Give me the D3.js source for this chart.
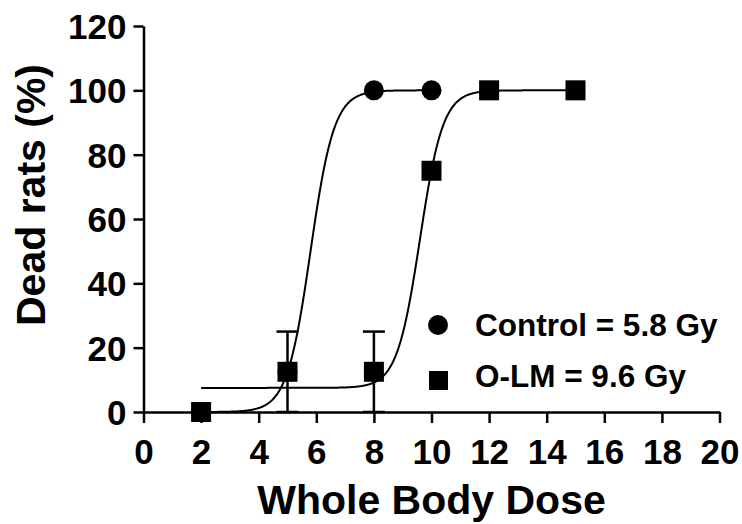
<!DOCTYPE html>
<html>
<head>
<meta charset="utf-8">
<script src="https://cdn.jsdelivr.net/npm/d3@7"></script>
<style>
  body { margin: 0; background: #fff; }
  text { font-family: "Liberation Sans", Arial, sans-serif; font-weight: bold; }
</style>
</head>
<body>
<div id="chart"></div>
<script>
var width = 742;
var height = 524;

// measured points
var controlDose = [2, 5, 8, 10];
var controlDead = [0, 12.5, 100, 100];
var olmDose = [2, 5, 8, 10, 12, 15];
var olmDead = [0, 12.5, 12.5, 75, 100, 100];
var olmErr = [0, 12.5, 12.5, 0, 0, 0];

// sigmoid fits: [bottom, top, LD50, slope, xFrom, xTo]
var controlFit = [0, 100, 5.8, 0.41, 2, 10];
var olmFit = [7.5, 100, 9.6, 0.40, 2, 15];

var xTicks = [0, 2, 4, 6, 8, 10, 12, 14, 16, 18, 20];
var yTicks = [0, 20, 40, 60, 80, 100, 120];
var legendLabels = ["Control = 5.8 Gy", "O-LM = 9.6 Gy"];

var margin = {left: 143.5, right: 22.5, top: 26, bottom: 112};

var svg = d3.select("#chart")
    .append("svg")
    .attr("width", width)
    .attr("height", height);

var x = d3.scaleLinear().domain([0, 20]).range([margin.left, width - margin.right]);
var y = d3.scaleLinear().domain([0, 120]).range([height - margin.bottom, margin.top]);

// axes
var xAxis = svg.append("g")
    .attr("transform", "translate(0," + y(0) + ")")
    .call(d3.axisBottom(x).tickValues(xTicks).tickSize(11).tickPadding(8).tickSizeOuter(0));
var yAxis = svg.append("g")
    .attr("transform", "translate(" + x(0) + ",0)")
    .call(d3.axisLeft(y).tickValues(yTicks).tickSize(10).tickPadding(7).tickSizeOuter(0));

[xAxis, yAxis].forEach(function (g) {
    g.select(".domain").attr("stroke", "#000").attr("stroke-width", 2.5);
    g.selectAll(".tick line").attr("stroke", "#000").attr("stroke-width", 2.5);
    g.selectAll(".tick text")
        .attr("fill", "#000")
        .style("font-size", "35px");
});
xAxis.selectAll(".tick text").attr("dy", "0.95em");
yAxis.selectAll(".tick text").attr("dy", "0.36em");

// axis titles
svg.append("text")
    .attr("x", x(10))
    .attr("y", 514)
    .attr("text-anchor", "middle")
    .style("font-size", "41px")
    .text("Whole Body Dose");

svg.append("text")
    .attr("transform", "translate(45,195) rotate(-90)")
    .attr("text-anchor", "middle")
    .style("font-size", "41px")
    .text("Dead rats (%)");

// fitted curves
function fitLine(p) {
    var xs = d3.range(p[4], p[5] + 0.001, 0.02);
    return xs.map(function (d) {
        return [d, p[0] + (p[1] - p[0]) / (1 + Math.exp((p[2] - d) / p[3]))];
    });
}
var line = d3.line()
    .x(function (d) { return x(d[0]); })
    .y(function (d) { return y(d[1]); });

[controlFit, olmFit].forEach(function (p) {
    svg.append("path")
        .attr("d", line(fitLine(p)))
        .attr("fill", "none")
        .attr("stroke", "#000")
        .attr("stroke-width", 2);
});

// error bars
var olm = olmDose.map(function (d, i) { return {x: d, y: olmDead[i], e: olmErr[i]}; });
var errs = svg.append("g").selectAll("g")
    .data(olm.filter(function (d) { return d.e > 0; }))
    .enter().append("g")
    .attr("stroke", "#000")
    .attr("stroke-width", 2.5);
errs.append("line")
    .attr("x1", function (d) { return x(d.x); })
    .attr("x2", function (d) { return x(d.x); })
    .attr("y1", function (d) { return y(d.y - d.e); })
    .attr("y2", function (d) { return y(d.y + d.e); });
[-1, 1].forEach(function (s) {
    errs.append("line")
        .attr("x1", function (d) { return x(d.x) - 11; })
        .attr("x2", function (d) { return x(d.x) + 11; })
        .attr("y1", function (d) { return y(d.y + s * d.e); })
        .attr("y2", function (d) { return y(d.y + s * d.e); });
});

// markers
svg.append("g").selectAll("circle")
    .data(controlDose)
    .enter().append("circle")
    .attr("cx", function (d) { return x(d); })
    .attr("cy", function (d, i) { return y(controlDead[i]); })
    .attr("r", 10)
    .attr("fill", "#000");

svg.append("g").selectAll("rect")
    .data(olm)
    .enter().append("rect")
    .attr("x", function (d) { return x(d.x) - 10; })
    .attr("y", function (d) { return y(d.y) - 10; })
    .attr("width", 20)
    .attr("height", 20)
    .attr("fill", "#000");

// legend
var legend = svg.append("g");
legend.append("circle")
    .attr("cx", 438).attr("cy", 325).attr("r", 10).attr("fill", "#000");
legend.append("rect")
    .attr("x", 429).attr("y", 371).attr("width", 19).attr("height", 19).attr("fill", "#000");
legend.selectAll("text")
    .data(legendLabels)
    .enter().append("text")
    .attr("x", 475)
    .attr("y", function (d, i) { return 336 + i * 51; })
    .style("font-size", "31.5px")
    .text(function (d) { return d; });
</script>
</body>
</html>
